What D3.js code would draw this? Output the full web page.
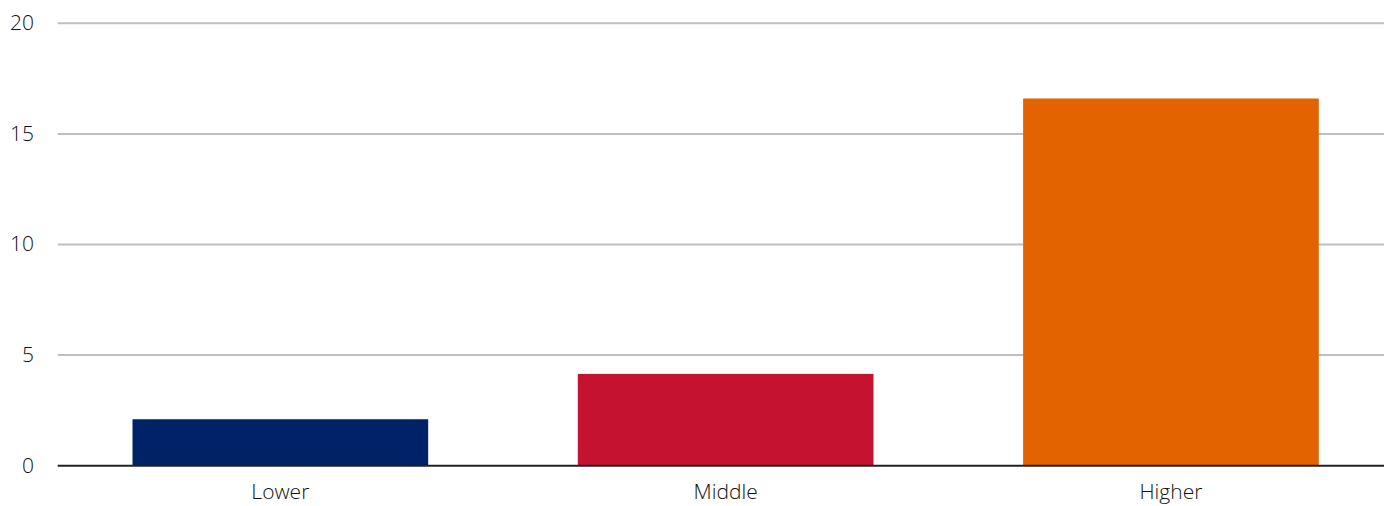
<!DOCTYPE html>
<html><head><meta charset="utf-8">
<script src="https://cdn.jsdelivr.net/npm/d3@7"></script>
<style>html,body{margin:0;padding:0;background:#fff;overflow:hidden}</style>
</head><body>
<svg id="chart" width="1384" height="506"></svg>
<script>
const categories = ["Lower", "Middle", "Higher"];
const values = [2.1, 4.15, 16.6];
const barColors = ["#002266", "#C41230", "#E36300"];
const yTicks = [0, 5, 10, 15, 20];

const svg = d3.select("#chart");
const x = d3.scaleBand().domain(categories).range([57.7, 1393.6]).paddingInner(0.336).paddingOuter(0.168);
const y = d3.scaleLinear().domain([0, 20]).range([465.7, 23.3]);
const font = "'Open Sans', 'Noto Sans', sans-serif";

// gridlines
svg.append("g").selectAll("line").data(yTicks.filter(d => d !== 0)).join("line")
  .attr("x1", 57.7).attr("x2", 1384)
  .attr("y1", d => y(d)).attr("y2", d => y(d))
  .attr("stroke", "#bfbfbf").attr("stroke-width", 2);

// bars
svg.append("g").selectAll("rect").data(categories).join("rect")
  .attr("x", d => x(d)).attr("width", x.bandwidth())
  .attr("y", (d, i) => y(values[i])).attr("height", (d, i) => y(0) - y(values[i]))
  .attr("fill", (d, i) => barColors[i]);

// baseline
svg.append("line").attr("x1", 57.7).attr("x2", 1384).attr("y1", y(0)).attr("y2", y(0))
  .attr("stroke", "#222").attr("stroke-width", 2);

// y axis labels
const yAxis = d3.axisLeft(y).tickValues(yTicks).tickSize(0).tickPadding(0);
const gy = svg.append("g").attr("transform", "translate(34,0)").call(yAxis);
gy.select(".domain").remove();
gy.selectAll("text").attr("font-family", font).attr("font-size", 21).attr("font-weight", 300)
  .attr("fill", "#111").attr("dy", "0.3em");

// x axis labels
const xAxis = d3.axisBottom(x).tickSize(0).tickPadding(0);
const gx = svg.append("g").attr("transform", "translate(0," + 484.5 + ")").call(xAxis);
gx.select(".domain").remove();
gx.selectAll("text").attr("font-family", font).attr("font-size", 21).attr("font-weight", 300)
  .attr("fill", "#111").attr("dy", "0.71em");
</script>
</body></html>
